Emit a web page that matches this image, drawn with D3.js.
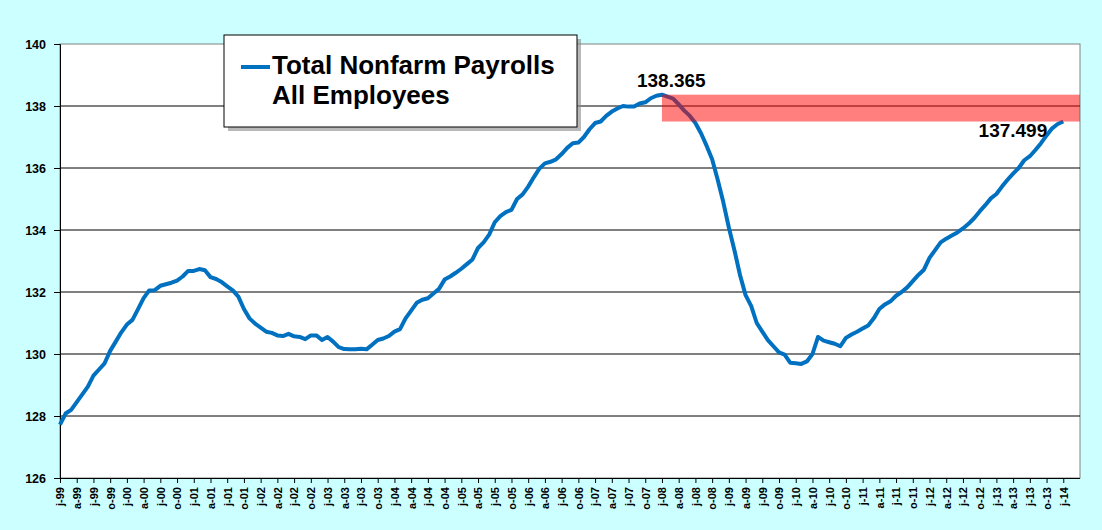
<!DOCTYPE html>
<html>
<head>
<meta charset="utf-8">
<script src="https://cdn.jsdelivr.net/npm/d3@7"></script>
<style>
  body { margin: 0; background: #ccffff; }
  svg { display: block; }
</style>
</head>
<body>
<div id="chart"></div>
<script>
// monthly total nonfarm payrolls, millions, Jan 1999 .. Jan 2014
const payrolls = [
  127.72, 128.08, 128.20, 128.45, 128.70, 128.95, 129.30, 129.50, 129.70, 130.10, 130.40, 130.70, // 1999
  130.95, 131.10, 131.45, 131.80, 132.05, 132.06, 132.20, 132.25, 132.30, 132.37, 132.50, 132.68, // 2000
  132.68, 132.74, 132.70, 132.48, 132.42, 132.32, 132.18, 132.05, 131.85, 131.45, 131.15, 130.98, // 2001
  130.85, 130.72, 130.68, 130.60, 130.58, 130.65, 130.57, 130.55, 130.48, 130.60, 130.60, 130.45, // 2002
  130.55, 130.40, 130.22, 130.16, 130.15, 130.15, 130.17, 130.15, 130.30, 130.45, 130.50, 130.58, // 2003
  130.72, 130.80, 131.15, 131.40, 131.65, 131.75, 131.80, 131.95, 132.10, 132.40, 132.50, 132.62, // 2004
  132.75, 132.90, 133.05, 133.42, 133.60, 133.85, 134.25, 134.45, 134.58, 134.65, 135.00, 135.15, // 2005
  135.40, 135.70, 135.98, 136.15, 136.20, 136.28, 136.45, 136.65, 136.80, 136.82, 137.00, 137.25, // 2006
  137.45, 137.50, 137.68, 137.82, 137.92, 138.00, 137.98, 137.98, 138.08, 138.12, 138.25, 138.33, // 2007
  138.365, 138.30, 138.24, 138.05, 137.85, 137.68, 137.45, 137.12, 136.72, 136.28, 135.62, 134.90, // 2008
  134.08, 133.35, 132.55, 131.90, 131.55, 131.00, 130.72, 130.45, 130.25, 130.05, 129.98, 129.72, // 2009
  129.70, 129.68, 129.76, 130.00, 130.55, 130.43, 130.38, 130.33, 130.25, 130.52, 130.63, 130.72, // 2010
  130.82, 130.92, 131.15, 131.45, 131.60, 131.70, 131.88, 132.00, 132.15, 132.35, 132.55, 132.72, // 2011
  133.10, 133.35, 133.60, 133.72, 133.82, 133.92, 134.05, 134.20, 134.38, 134.60, 134.80, 135.02, // 2012
  135.16, 135.40, 135.62, 135.82, 136.00, 136.25, 136.38, 136.58, 136.80, 137.05, 137.28, 137.42, // 2013
  137.499 // Jan 2014
];

// one label every third month
const tickLabels = [
  "j-99","a-99","j-99","o-99","j-00","a-00","j-00","o-00","j-01","a-01","j-01","o-01",
  "j-02","a-02","j-02","o-02","j-03","a-03","j-03","o-03","j-04","a-04","j-04","o-04",
  "j-05","a-05","j-05","o-05","j-06","a-06","j-06","o-06","j-07","a-07","j-07","o-07",
  "j-08","a-08","j-08","o-08","j-09","a-09","j-09","o-09","j-10","a-10","j-10","o-10",
  "j-11","a-11","j-11","o-11","j-12","a-12","j-12","o-12","j-13","a-13","j-13","o-13",
  "j-14"
];
const yTicks = [126, 128, 130, 132, 134, 136, 138, 140];

const peakIndex = 108;     // Jan 2008
const peakValue = 138.365;
const lastIndex = payrolls.length - 1;
const lastValue = 137.499;
const monthSlots = 183;

const width = 1102, height = 530;
const plotLeft = 60, plotRight = 1080, plotTop = 44, plotBottom = 478;

const svg = d3.select("#chart").append("svg")
  .attr("width", width)
  .attr("height", height);

svg.append("rect")
  .attr("width", width).attr("height", height)
  .attr("fill", "#ccffff");

const x = d3.scaleLinear().domain([0, monthSlots]).range([plotLeft, plotRight]);
const y = d3.scaleLinear().domain([126, 140]).range([plotBottom, plotTop]);

// plot area
svg.append("rect")
  .attr("x", plotLeft).attr("y", plotTop)
  .attr("width", plotRight - plotLeft).attr("height", plotBottom - plotTop)
  .attr("fill", "#fff")
  .attr("stroke", "#808080");

svg.append("g")
  .selectAll("line")
  .data(yTicks.filter(d => d > 126 && d < 140))
  .enter().append("line")
  .attr("x1", plotLeft).attr("x2", plotRight)
  .attr("y1", d => y(d)).attr("y2", d => y(d))
  .attr("stroke", "#000")
  .attr("stroke-width", 1);

// y axis
const yAxis = svg.append("g")
  .attr("transform", `translate(${plotLeft},0)`)
  .call(d3.axisLeft(y).tickValues(yTicks).tickSize(6).tickPadding(8).tickFormat(d3.format("d")));
yAxis.selectAll("path, line").attr("stroke", "#000");
yAxis.selectAll("text")
  .attr("font-family", "Liberation Sans, Arial, sans-serif")
  .attr("font-size", "12.5px")
  .attr("font-weight", "bold")
  .attr("fill", "#000");

// x axis
const xAxis = svg.append("g")
  .attr("transform", `translate(0,${plotBottom})`)
  .call(d3.axisBottom(x)
    .tickValues(tickLabels.map((d, i) => i * 3))
    .tickSize(5)
    .tickFormat((d, i) => tickLabels[i]));
xAxis.select("path.domain").attr("d", `M${plotLeft},0.5H${plotRight}`).attr("stroke", "#000");
xAxis.selectAll("line").attr("stroke", "#000");
xAxis.selectAll("text")
  .attr("font-family", "Liberation Sans, Arial, sans-serif")
  .attr("font-size", "11px")
  .attr("font-weight", "bold")
  .attr("fill", "#000")
  .attr("text-anchor", "end")
  .attr("transform", "rotate(-90)")
  .attr("x", -9)
  .attr("y", 0)
  .attr("dy", "0.35em");

// payroll line
const line = d3.line()
  .x((d, i) => x(i))
  .y(d => y(d));

svg.append("path")
  .datum(payrolls)
  .attr("fill", "none")
  .attr("stroke", "#0070c0")
  .attr("stroke-width", 4)
  .attr("stroke-linejoin", "round")
  .attr("d", line);

// gap band between old peak and latest value
svg.append("rect")
  .attr("x", x(peakIndex))
  .attr("y", y(peakValue))
  .attr("width", plotRight - x(peakIndex))
  .attr("height", y(lastValue) - y(peakValue))
  .attr("fill", "rgba(255,0,0,0.5)");

svg.append("text")
  .attr("x", x(peakIndex) - 25)
  .attr("y", y(peakValue) - 8)
  .attr("font-family", "Liberation Sans, Arial, sans-serif")
  .attr("font-size", "19px")
  .attr("font-weight", "bold")
  .text(peakValue.toFixed(3));

svg.append("text")
  .attr("x", x(lastIndex) - 16)
  .attr("y", y(lastValue) + 15)
  .attr("text-anchor", "end")
  .attr("font-family", "Liberation Sans, Arial, sans-serif")
  .attr("font-size", "19px")
  .attr("font-weight", "bold")
  .text(lastValue.toFixed(3));

// legend
const legend = svg.append("g").attr("transform", "translate(224,35)");
legend.append("rect")
  .attr("x", 4).attr("y", 4)
  .attr("width", 353).attr("height", 92)
  .attr("fill", "#888").attr("opacity", 0.6);
legend.append("rect")
  .attr("width", 353).attr("height", 92)
  .attr("fill", "#fff")
  .attr("stroke", "#000")
  .attr("stroke-width", 1);
legend.append("line")
  .attr("x1", 17).attr("x2", 46)
  .attr("y1", 32).attr("y2", 32)
  .attr("stroke", "#0070c0")
  .attr("stroke-width", 4);
legend.selectAll("text.leg")
  .data(["Total Nonfarm Payrolls", "All Employees"])
  .enter().append("text")
  .attr("class", "leg")
  .attr("x", 48)
  .attr("y", (d, i) => 39 + i * 30)
  .attr("font-family", "Liberation Sans, Arial, sans-serif")
  .attr("font-size", "26px")
  .attr("font-weight", "bold")
  .text(d => d);
</script>
</body>
</html>
